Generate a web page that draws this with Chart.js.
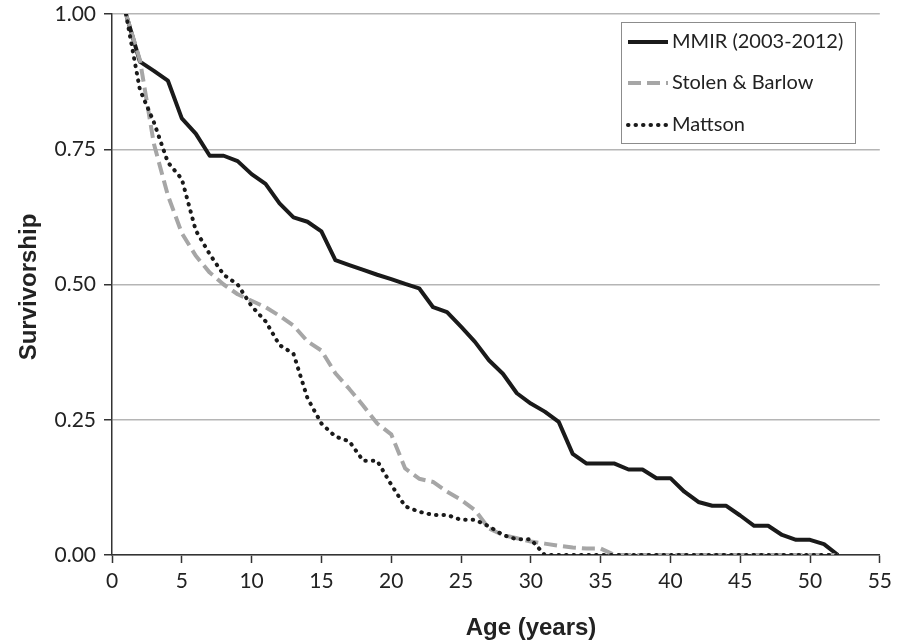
<!DOCTYPE html>
<html>
<head>
<meta charset="utf-8">
<script src="https://cdn.jsdelivr.net/npm/chart.js@4"></script>
<style>
  body { margin: 0; background: #fff; }
  #wrap { width: 898px; height: 643px; }
</style>
</head>
<body>
<div id="wrap"><canvas id="grafico" width="898" height="643"></canvas></div>
<script>
// ages (years)
const idades = [1, 2, 3, 4, 5, 6, 7, 8, 9, 10, 11, 12, 13, 14, 15, 16, 17, 18, 19, 20,
  21, 22, 23, 24, 25, 26, 27, 28, 29, 30, 31, 32, 33, 34, 35, 36, 37, 38, 39, 40,
  41, 42, 43, 44, 45, 46, 47, 48, 49, 50, 51, 52];

const mmir = [1.00, 0.912, 0.895, 0.877, 0.807, 0.779, 0.738, 0.738, 0.728, 0.704,
  0.686, 0.650, 0.624, 0.616, 0.598, 0.545, 0.536, 0.527, 0.518, 0.510,
  0.501, 0.493, 0.458, 0.449, 0.422, 0.394, 0.360, 0.335, 0.299, 0.280,
  0.265, 0.246, 0.187, 0.169, 0.169, 0.169, 0.158, 0.158, 0.142, 0.142,
  0.117, 0.098, 0.091, 0.091, 0.073, 0.054, 0.054, 0.037, 0.028, 0.028,
  0.020, 0.000];

const stolenBarlow = [1.00, 0.915, 0.760, 0.665, 0.595, 0.553, 0.522, 0.500, 0.482, 0.470,
  0.458, 0.442, 0.424, 0.395, 0.378, 0.336, 0.307, 0.276, 0.243, 0.223,
  0.160, 0.141, 0.135, 0.117, 0.102, 0.083, 0.049, 0.037, 0.031, 0.025,
  0.021, 0.017, 0.014, 0.012, 0.012, 0, 0, 0, 0, 0,
  0, 0, 0, 0, 0, 0, 0, 0, 0, 0,
  0, 0];

const mattson = [1.00, 0.860, 0.800, 0.726, 0.695, 0.600, 0.556, 0.518, 0.500, 0.460,
  0.432, 0.388, 0.372, 0.290, 0.243, 0.219, 0.210, 0.174, 0.174, 0.130,
  0.090, 0.080, 0.074, 0.074, 0.065, 0.065, 0.053, 0.037, 0.029, 0.029,
  0, 0, 0, 0, 0, 0, 0, 0, 0, 0,
  0, 0, 0, 0, 0, 0, 0, 0, 0, 0,
  0, 0];

const nomes = ['MMIR (2003-2012)', 'Stolen & Barlow', 'Mattson'];
const ticksX = [0, 5, 10, 15, 20, 25, 30, 35, 40, 45, 50, 55];
const ticksY = [0, 0.25, 0.5, 0.75, 1];

function pontos(valores) {
  return idades.map((a, i) => ({ x: a, y: valores[i] }));
}

// legend box inside the plot, like the Excel one
const legendaCaixa = {
  id: 'legendaCaixa',
  afterDraw(chart) {
    const ctx = chart.ctx;
    const x0 = 621, y0 = 22, w = 234, h = 121;
    ctx.save();
    ctx.fillStyle = '#fff';
    ctx.fillRect(x0, y0, w, h);
    ctx.strokeStyle = '#8c8c8c';
    ctx.lineWidth = 1;
    ctx.strokeRect(x0 + 0.5, y0 + 0.5, w, h);
    const linhasY = [42, 83, 125];
    chart.data.datasets.forEach((ds, i) => {
      const y = linhasY[i];
      ctx.beginPath();
      ctx.strokeStyle = ds.borderColor;
      ctx.lineWidth = ds.borderWidth;
      ctx.lineCap = ds.borderCapStyle || 'butt';
      ctx.setLineDash(ds.borderDash || []);
      ctx.moveTo(628, y);
      ctx.lineTo(668, y);
      ctx.stroke();
      ctx.setLineDash([]);
      ctx.fillStyle = '#222';
      ctx.font = '20px Lato';
      ctx.textBaseline = 'middle';
      ctx.textAlign = 'left';
      ctx.fillText(ds.label, 672, y);
    });
    ctx.restore();
  }
};

// axis titles placed where the reference has them
const titulosEixos = {
  id: 'titulosEixos',
  afterDraw(chart) {
    const ctx = chart.ctx;
    ctx.save();
    ctx.fillStyle = '#222';
    ctx.font = 'bold 24px "Liberation Sans"';
    ctx.textAlign = 'center';
    ctx.textBaseline = 'middle';
    ctx.fillText('Age (years)', 531, 628);
    ctx.translate(29, 287);
    ctx.rotate(-Math.PI / 2);
    ctx.fillText('Survivorship', 0, 0);
    ctx.restore();
  }
};

const ctx = document.getElementById('grafico').getContext('2d');
new Chart(ctx, {
  type: 'line',
  data: {
    datasets: [
      {
        label: nomes[0],
        data: pontos(mmir),
        borderColor: '#1a1a1a',
        borderWidth: 4,
        borderJoinStyle: 'round',
        pointRadius: 0,
        order: 3
      },
      {
        label: nomes[1],
        data: pontos(stolenBarlow),
        borderColor: '#a6a6a6',
        borderWidth: 4,
        borderDash: [13, 6],
        borderJoinStyle: 'round',
        pointRadius: 0,
        order: 2
      },
      {
        label: nomes[2],
        data: pontos(mattson),
        borderColor: '#1a1a1a',
        borderWidth: 4,
        borderDash: [0.5, 7],
        borderCapStyle: 'round',
        pointRadius: 0,
        order: 1
      }
    ]
  },
  options: {
    responsive: false,
    animation: false,
    layout: { padding: { top: 2, right: 13, left: 0, bottom: 0 } },
    plugins: {
      legend: { display: false },
      tooltip: { enabled: false }
    },
    scales: {
      x: {
        type: 'linear',
        min: 0,
        max: 55,
        afterBuildTicks: s => { s.ticks = ticksX.map(v => ({ value: v })); },
        afterFit: s => { s.height = 88; },
        ticks: {
          color: '#222',
          font: { family: 'Lato', size: 21 },
          padding: 6,
          maxRotation: 0
        },
        grid: { drawOnChartArea: false, tickLength: 8, tickColor: '#333', tickWidth: 1.5 },
        border: { color: '#333', width: 1.5 }
      },
      y: {
        min: 0,
        max: 1,
        afterBuildTicks: s => { s.ticks = ticksY.map(v => ({ value: v })); },
        afterFit: s => { s.width = 112; s.paddingTop = 14; s.paddingBottom = 0; },
        ticks: {
          color: '#222',
          font: { family: 'Lato', size: 21 },
          padding: 8,
          callback: v => v.toFixed(2)
        },
        grid: { color: '#b5b5b5', lineWidth: 1.5, tickLength: 8, tickColor: '#333', tickWidth: 1.5 },
        border: { color: '#333', width: 1.5 }
      }
    }
  },
  plugins: [legendaCaixa, titulosEixos]
});
</script>
</body>
</html>
